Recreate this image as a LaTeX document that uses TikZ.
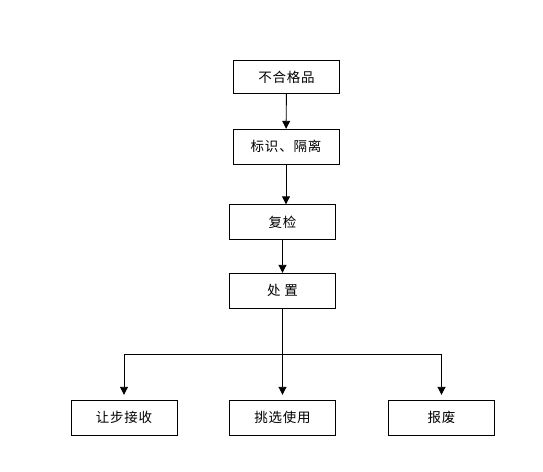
\documentclass[tikz,border=0pt]{standalone}
\usepackage{fontspec}
\newfontfamily\cjk[LetterSpace=6]{Noto Sans CJK SC}
\usetikzlibrary{arrows.meta,positioning,calc}

\begin{document}
\begin{tikzpicture}[x=1pt, y=-1pt,
  box/.style={draw, rectangle, minimum width=106pt, minimum height=35pt,
              inner sep=2pt, align=center, font=\cjk\fontsize{13.5}{15}\selectfont},
lnk/.style={-{Triangle[length=8pt,width=8pt]}, line width=0.9pt},
]
\useasboundingbox (0,0) rectangle (543,471);
\node[box, minimum height=33pt] (bad) at (286.5,77) {不合格品};
\node[box] (mark) at (286,146.5) {标识、隔离};
\node[box] (recheck) at (282.5,222) {复检};
\node[box] (deal) at (282.5,290.5) {处\ 置};
\node[box] (accept) at (124,417.5) {让步接收};
\node[box] (pick) at (282.5,417.5) {挑选使用};
\node[box] (scrap) at (441.5,417.5) {报废};
\draw[lnk] (bad) -- (mark);
\draw[lnk] (mark.south) -- (mark.south |- recheck.north);
\draw[lnk] (recheck) -- (deal);
\coordinate (split) at ($(deal.south |- 0,354)$);
\draw[lnk, shorten >=5pt] (deal.south) -- (pick.north);
\draw[lnk, shorten >=5pt] (split) -| (accept.north);
\draw[lnk, shorten >=5pt] (split) -| (scrap.north);
\end{tikzpicture}
\end{document}
